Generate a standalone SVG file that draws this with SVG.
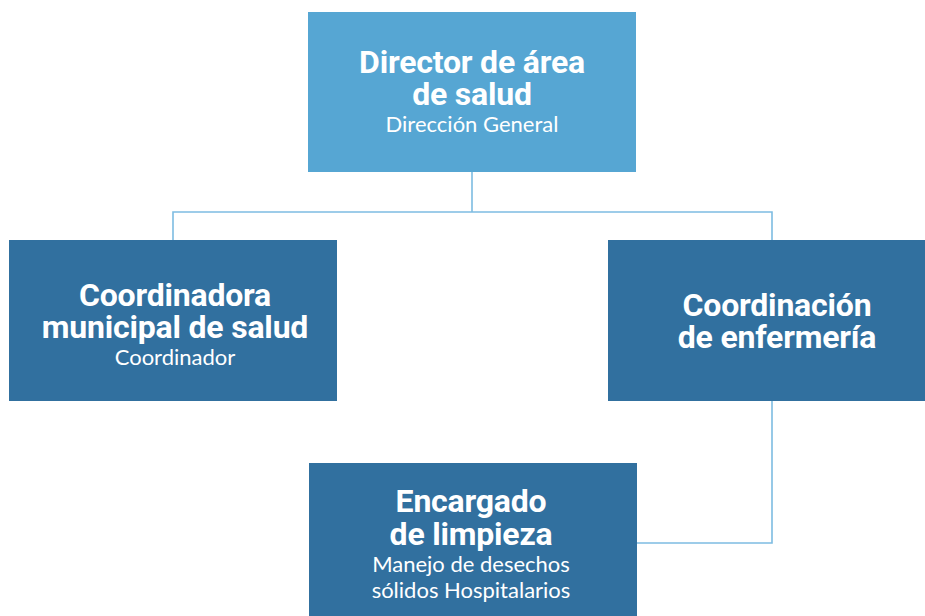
<svg xmlns="http://www.w3.org/2000/svg" width="925" height="616" viewBox="0 0 925 616">
<style>
.top{fill:#56A6D3}
.box{fill:#31709F}
.t{font-family:Roboto,"Liberation Sans",sans-serif;font-weight:700;font-size:32px;fill:#fff;text-anchor:middle;letter-spacing:-0.2px}
.s{font-family:Lato,"Open Sans",sans-serif;font-size:22px;fill:#fff;text-anchor:middle}
.c{fill:none;stroke:#7DBCE2;stroke-width:1.6}
</style>
<rect width="925" height="616" fill="#fff"/>
<g id="connectors">
<path class="c" d="M472 172V212M173 240V212H772V240"/>
<path class="c" d="M772 401V543H637"/>
</g>
<g id="director">
<rect class="top" x="308" y="12" width="328" height="160"/>
<text class="t" x="472" y="73">Director de área</text>
<text class="t" x="472" y="105">de salud</text>
<text class="s" x="472" y="132">Dirección General</text>
</g>
<g id="coordinadora">
<rect class="box" x="9" y="240" width="328" height="161"/>
<text class="t" x="175" y="306">Coordinadora</text>
<text class="t" x="175" y="338">municipal de salud</text>
<text class="s" x="175" y="365">Coordinador</text>
</g>
<g id="enfermeria">
<rect class="box" x="608" y="240" width="317" height="161"/>
<text class="t" x="777" y="316">Coordinación</text>
<text class="t" x="777" y="348">de enfermería</text>
</g>
<g id="limpieza">
<rect class="box" x="309" y="463" width="328" height="153"/>
<text class="t" x="471" y="512">Encargado</text>
<text class="t" x="471" y="545">de limpieza</text>
<text class="s" x="471" y="572">Manejo de desechos</text>
<text class="s" x="471" y="598">sólidos Hospitalarios</text>
</g>
</svg>
